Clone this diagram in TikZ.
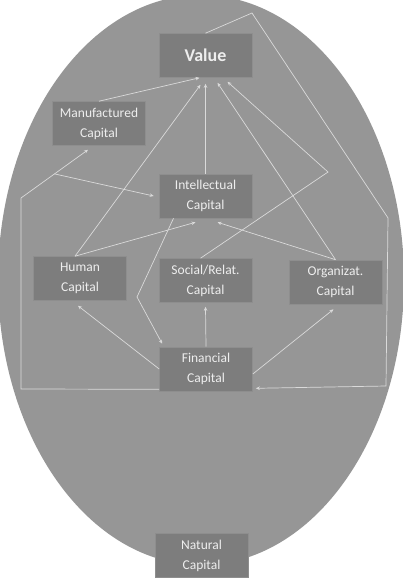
\documentclass[tikz,border=0pt]{standalone}
\usepackage{fontspec}
\setmainfont{Carlito}
\usetikzlibrary{arrows.meta}
\definecolor{eggfill}{HTML}{969696}
\definecolor{boxfill}{HTML}{7D7D7D}
\definecolor{boxline}{HTML}{8E8E8E}
\definecolor{boxtext}{HTML}{EEEEEE}
\definecolor{linkcol}{HTML}{DADADA}

\begin{document}
\begin{tikzpicture}[x=1pt,y=-1pt,
  capbox/.style={draw=boxline,fill=boxfill,text=boxtext,line width=0.6pt,
    minimum width=93pt,minimum height=44pt,inner sep=0pt,align=center,
    font=\fontsize{13.5}{20}\selectfont},
  link/.style={draw=linkcol,line width=0.7pt,-{Stealth[length=4pt,width=3.5pt]}}]
  \useasboundingbox (0,0) rectangle (403,583);
  \clip (0,0) rectangle (403,583);
  \fill[eggfill] (201,280) ellipse [x radius=203,y radius=285];

  \node[capbox,font=\fontsize{18}{20}\selectfont\bfseries] (value) at (205.5,55.5) {Value};
  \node[capbox] (manuf) at (99,123.5) {Manufactured\\Capital};
  \node[capbox] (intel) at (205.5,196) {Intellectual\\Capital};
  \node[capbox] (human) at (80,278.5) {Human\\Capital};
  \node[capbox] (social) at (205.5,280.5) {Social/Relat.\\Capital};
  \node[capbox] (organiz) at (335.5,282) {Organizat.\\Capital};
  \node[capbox] (financ) at (206,369) {Financial\\Capital};
  \node[capbox] (natural) at (201.5,555.5) {Natural\\Capital};

  \coordinate (sbend) at (328,172);
  \coordinate (ibend) at (137,297);
  \coordinate (lbot) at (21,389);
  \coordinate (ltop) at (21,198);
  \coordinate (mtip) at ([xshift=-11pt,yshift=-4pt]manuf.south);
  \coordinate (rtop) at (252,13);
  \coordinate (rmid) at (388,218);
  \coordinate (rbot) at (386,386);

  \draw[link] (manuf.north) -- ([xshift=-6pt]value.south);
  \draw[link] ([xshift=-5pt]human.north) -- ([xshift=-5pt,yshift=-7pt]value.south);
  \draw[link] (intel.north) -- ([yshift=-6pt]value.south);
  \draw[link] (organiz.north) -- ([xshift=12pt,yshift=-5pt]value.south);
  \draw[link] ([xshift=-5pt]social.north) -- (sbend) -- ([xshift=22pt,yshift=-4pt]value.south);

  \draw[link] ([yshift=2pt]financ.south west) -- (lbot) -- (ltop) -- (mtip);
  \path (ltop) -- (mtip) coordinate[pos=0.5] (lmid);
  \draw[link] (lmid) -- ([xshift=-5pt]intel.west);
  \draw[link] (value.north) -- (rtop) -- (rmid) -- (rbot) -- ([xshift=3pt,yshift=3pt]financ.south east);

  \draw[link] ([xshift=-5pt]human.north) -- ([xshift=-10pt,yshift=-4pt]intel.south);
  \draw[link] (organiz.north) -- ([xshift=12pt,yshift=-4pt]intel.south);
  \draw[link] ([xshift=-32pt]intel.south) -- (ibend) -- ([xshift=3pt,yshift=3pt]financ.north west);

  \draw[link] (financ.west) -- ([xshift=-2pt,yshift=-5pt]human.south);
  \draw[link] (financ.north) -- ([yshift=-4pt]social.south);
  \draw[link] ([yshift=-5pt]financ.east) -- ([xshift=-2pt,yshift=-5pt]organiz.south);
\end{tikzpicture}
\end{document}
